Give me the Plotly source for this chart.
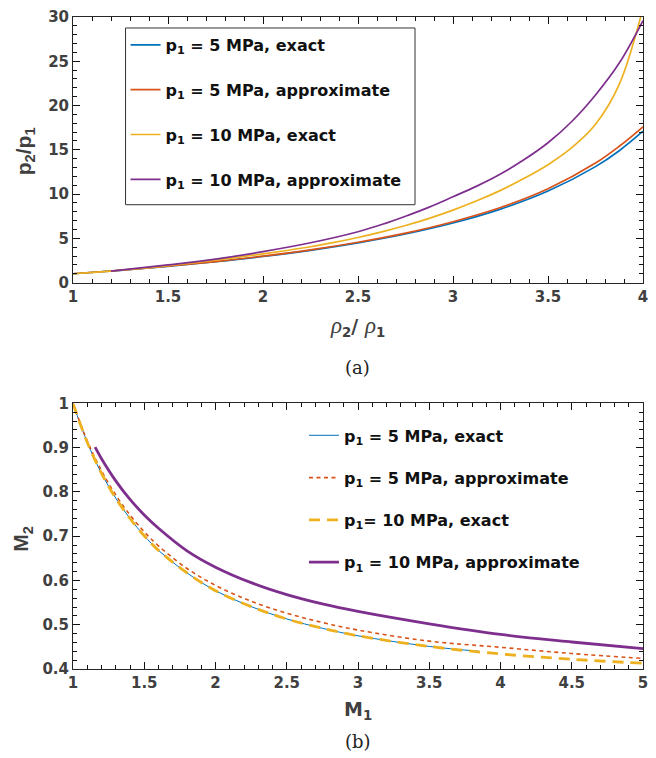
import plotly.graph_objects as go

# ---------- Panel (a): pressure ratio vs density ratio ----------
rho_x = [1.0, 1.25, 1.5, 1.75, 2.0, 2.25, 2.5, 2.75, 3.0, 3.25, 3.5, 3.75, 3.875, 4.0]
p5_exact = [1.0, 1.39, 1.84, 2.36, 2.95, 3.65, 4.49, 5.49, 6.73, 8.30, 10.34, 13.1, 14.9, 17.1]
p5_approx = [1.0, 1.40, 1.86, 2.38, 2.99, 3.70, 4.56, 5.59, 6.88, 8.48, 10.6, 13.5, 15.4, 17.6]
rho_x_p10e = [1.0, 1.125, 1.25, 1.375, 1.5, 1.625, 1.75, 1.875, 2.0, 2.125, 2.25, 2.375, 2.5,
              2.625, 2.75, 2.875, 3.0, 3.125, 3.25, 3.375, 3.5, 3.625, 3.75, 3.875, 4.0]
p10_exact = [1.0, 1.185, 1.40, 1.64, 1.92, 2.22, 2.55, 2.89, 3.25, 3.63, 4.05, 4.55, 5.10,
             5.73, 6.45, 7.26, 8.19, 9.24, 10.42, 11.78, 13.32, 15.24, 17.89, 22.4, 31.0]
rho_x_p10a = [1.2, 1.5, 1.75, 2.0, 2.25, 2.5, 2.625, 2.75, 2.875, 3.0, 3.125, 3.25, 3.375, 3.5, 3.625, 3.75, 3.875, 4.0]
p10_approx = [1.3, 2.0, 2.65, 3.5, 4.5, 5.75, 6.56, 7.5, 8.53, 9.7, 10.9, 12.27, 13.9, 15.8, 18.2, 21.2, 24.8, 29.6]

# ---------- Panel (b): downstream Mach vs upstream Mach ----------
m1_x = [1.0, 1.1, 1.2, 1.3, 1.4, 1.5, 1.6, 1.8, 2.0, 2.25, 2.5, 2.75, 3.0, 3.5, 4.0, 4.5, 5.0]
m1_p5e_x = [1.0, 1.1, 1.2, 1.3, 1.4, 1.5, 1.6, 1.8, 2.0, 2.25, 2.5, 2.75, 3.0, 3.5, 3.85]
m2_p5_exact = [1.0, 0.912, 0.842, 0.786, 0.740, 0.701, 0.668, 0.617, 0.577, 0.541, 0.513, 0.492, 0.475, 0.451, 0.440]
m2_p5_approx = [1.0, 0.915, 0.848, 0.793, 0.748, 0.710, 0.678, 0.627, 0.589, 0.553, 0.526, 0.505, 0.488, 0.463, 0.449, 0.435, 0.424]
m2_p10_exact = [1.0, 0.912, 0.842, 0.786, 0.740, 0.701, 0.668, 0.617, 0.577, 0.541, 0.513, 0.492, 0.475, 0.451, 0.434, 0.422, 0.413]
m1_p10a_x = [1.155, 1.2, 1.3, 1.4, 1.5, 1.6, 1.8, 2.0, 2.25, 2.5, 2.75, 3.0, 3.5, 4.0, 4.5, 5.0]
m2_p10_approx = [0.901, 0.875, 0.825, 0.783, 0.748, 0.718, 0.667, 0.630, 0.595, 0.568, 0.547, 0.530, 0.502, 0.478, 0.461, 0.446]

names_a = ["p<sub>1</sub> = 5 MPa, exact", "p<sub>1</sub> = 5 MPa, approximate",
           "p<sub>1</sub> = 10 MPa, exact", "p<sub>1</sub> = 10 MPa, approximate"]
names_b = ["p<sub>1</sub> = 5 MPa, exact", "p<sub>1</sub> = 5 MPa, approximate",
           "p<sub>1</sub>= 10 MPa, exact", "p<sub>1</sub> = 10 MPa, approximate"]

BLUE, RED, YEL, PUR = "#0072BD", "#D95319", "#EDB120", "#7E2F8E"
SANS = "DejaVu Sans"
AXC = "#262626"
LBL = "#404040"

fig = go.Figure()

# panel (a)
fig.add_trace(go.Scatter(x=rho_x, y=p5_exact, mode="lines", name=names_a[0], legendgroup="a1",
                         line=dict(color=BLUE, width=1.7, shape="spline"), legend="legend",
                         xaxis="x", yaxis="y"))
fig.add_trace(go.Scatter(x=rho_x, y=p5_approx, mode="lines", name=names_a[1], legendgroup="a2",
                         line=dict(color=RED, width=1.7, shape="spline"), legend="legend",
                         xaxis="x", yaxis="y"))
fig.add_trace(go.Scatter(x=rho_x_p10e, y=p10_exact, mode="lines", name=names_a[2], legendgroup="a3",
                         line=dict(color=YEL, width=1.7, shape="spline"), legend="legend",
                         xaxis="x", yaxis="y"))
fig.add_trace(go.Scatter(x=rho_x_p10a, y=p10_approx, mode="lines", name=names_a[3], legendgroup="a4",
                         line=dict(color=PUR, width=1.7, shape="spline"), legend="legend",
                         xaxis="x", yaxis="y"))

# panel (b)
fig.add_trace(go.Scatter(x=m1_p5e_x, y=m2_p5_exact, mode="lines", name=names_b[0], legendgroup="b1",
                         line=dict(color=BLUE, width=1.0, shape="spline"), legend="legend2",
                         xaxis="x2", yaxis="y2"))
fig.add_trace(go.Scatter(x=m1_x, y=m2_p5_approx, mode="lines", name=names_b[1], legendgroup="b2",
                         line=dict(color=RED, width=1.6, shape="spline", dash="4px,3.5px"), legend="legend2",
                         xaxis="x2", yaxis="y2"))
fig.add_trace(go.Scatter(x=m1_x, y=m2_p10_exact, mode="lines", name=names_b[2], legendgroup="b3",
                         line=dict(color=YEL, width=2.8, shape="spline", dash="11px,7px"), legend="legend2",
                         xaxis="x2", yaxis="y2"))
fig.add_trace(go.Scatter(x=m1_p10a_x, y=m2_p10_approx, mode="lines", name=names_b[3], legendgroup="b4",
                         line=dict(color=PUR, width=2.8, shape="spline"), legend="legend2",
                         xaxis="x2", yaxis="y2"))


def make_axis(rng, tick0, dtick, minor_dtick, domain, anchor):
    return dict(
        range=rng, domain=domain, anchor=anchor,
        tickmode="linear", tick0=tick0, dtick=dtick,
        showline=True, linecolor=AXC, linewidth=1, mirror="allticks",
        ticks="inside", ticklen=7, tickwidth=1.2, tickcolor="#111111",
        showgrid=False, zeroline=False,
        tickfont=dict(family=SANS, size=15, color=LBL, weight="bold"),
        minor=dict(ticks="inside", ticklen=4, tickwidth=1.2, tickcolor="#111111",
                   tick0=tick0, dtick=minor_dtick, showgrid=False),
    )


fig.update_layout(
    xaxis=make_axis([1, 4], 1, 0.5, 0.1, [0, 1], "y"),
    yaxis=make_axis([0, 30], 0, 5, 1, [0.5926, 1.0], "x"),
    xaxis2=make_axis([1, 5], 1, 0.5, 0.1, [0, 1], "y2"),
    yaxis2=make_axis([0.4, 1.0], 0.4, 0.1, 0.02, [0, 0.4074], "x2"),
)


def paper_xy(px, py):
    return (px - 73) / 575, 1 - (py - 16) / 653


bx0, by0 = paper_xy(126, 27)
bx1, by1 = paper_xy(418, 204)

fig.update_layout(
    width=656, height=758,
    margin=dict(l=73, r=8, t=16, b=89),
    paper_bgcolor="white", plot_bgcolor="white",
    font=dict(family=SANS, color=AXC),
    showlegend=True,
    legend=dict(x=(126 - 73) / 575, y=1 - (27 - 16) / 653, xanchor="left", yanchor="top",
                bgcolor="rgba(0,0,0,0)", borderwidth=0,
                font=dict(family=SANS, size=16, color="#111111", weight="bold"),
                traceorder="grouped", tracegroupgap=21, itemwidth=30),
    legend2=dict(x=(306 - 73) / 575, y=1 - (418 - 16) / 653, xanchor="left", yanchor="top",
                 bgcolor="rgba(0,0,0,0)", borderwidth=0,
                 font=dict(family=SANS, size=16, color="#111111", weight="bold"),
                 traceorder="grouped", tracegroupgap=18.5, itemwidth=30),
    shapes=[dict(type="rect", xref="paper", yref="paper", x0=bx0, y0=by1, x1=bx1, y1=by0,
                 line=dict(color="#333333", width=1), fillcolor="white", layer="below")],
)

RHO = '<span style="font-family:Liberation Serif;font-style:italic;font-weight:normal;font-size:23px">ρ</span>'
ann = []
x, y = paper_xy(360, 326)
ann.append(dict(x=x, y=y, text=RHO + "<sub>2</sub>/ " + RHO + "<sub>1</sub>", showarrow=False,
                font=dict(family=SANS, size=19, color=LBL, weight="bold")))
x, y = paper_xy(360, 367)
ann.append(dict(x=x, y=y, text="(a)", showarrow=False,
                font=dict(family="DejaVu Serif", size=18, color="#222222")))
x, y = paper_xy(24, 150)
ann.append(dict(x=x, y=y, text="p<sub>2</sub>/p<sub>1</sub>", showarrow=False, textangle=-90,
                font=dict(family="Liberation Sans", size=21, color=LBL, weight="bold")))
x, y = paper_xy(360, 711)
ann.append(dict(x=x, y=y, text="M<sub>1</sub>", showarrow=False,
                font=dict(family=SANS, size=19, color=LBL, weight="bold")))
x, y = paper_xy(360, 742)
ann.append(dict(x=x, y=y, text="(b)", showarrow=False,
                font=dict(family="DejaVu Serif", size=18, color="#222222")))
x, y = paper_xy(22, 538)
ann.append(dict(x=x, y=y, text="M<sub>2</sub>", showarrow=False, textangle=-90,
                font=dict(family="Liberation Sans", size=21, color=LBL, weight="bold")))
for a in ann:
    a.update(xref="paper", yref="paper", xanchor="center", yanchor="middle")
fig.update_layout(annotations=ann)

fig.write_html("out.html")
